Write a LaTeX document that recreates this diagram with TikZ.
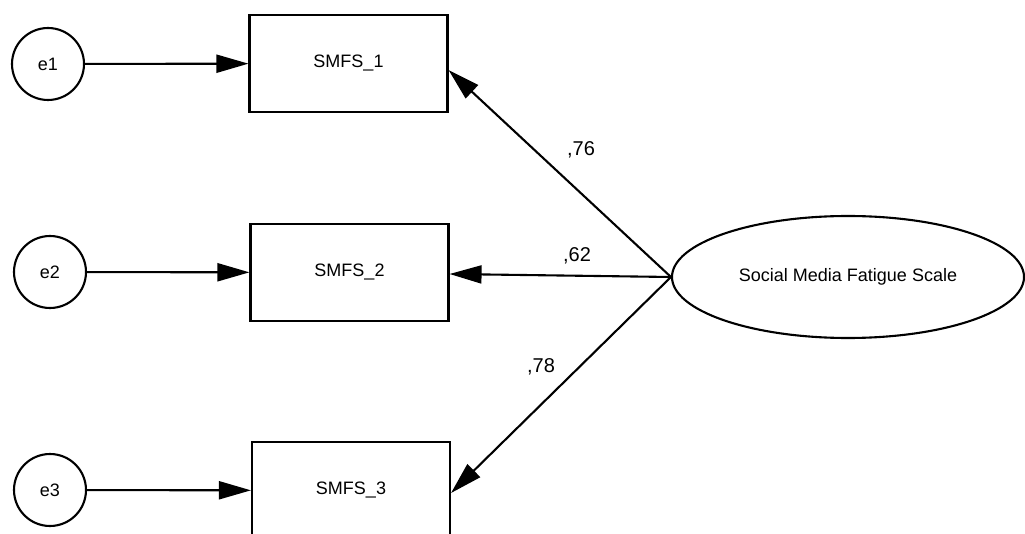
\documentclass[tikz,border=0pt]{standalone}
\usepackage{fontspec}
\setmainfont{Liberation Sans}
\usepackage{tikz}
\usetikzlibrary{shapes.geometric,arrows.meta,positioning}

\begin{document}
\begin{tikzpicture}
[x=1pt,y=-1pt,line width=2.1pt,>={Triangle[length=32pt,width=18pt]},
font=\fontsize{18}{21}\selectfont,
err/.style = {draw, circle, minimum size = 72pt, inner sep = 0pt},
obs/.style = {draw, rectangle, minimum width = 198pt, minimum height = 97pt, inner sep = 0pt},
lat/.style = {draw, ellipse, minimum width = 352pt, minimum height = 122pt, inner sep = 0pt},
est/.style = {font=\fontsize{20}{22}\selectfont},]
\useasboundingbox (0,0) rectangle (1025,534);
\node (e1) at (48,64) [err] {e1};
\node (e2) at (50,272) [err] {e2};
\node (e3) at (50,490) [err] {e3};
\node (S1) at (348.5,63.5) [obs] {SMFS\_1};
\node (S2) at (349.5,272.5) [obs] {SMFS\_2};
\node (S3) at (351,490.5) [obs] {SMFS\_3};
\node (F) at (848,277) [lat] {Social Media Fatigue Scale};
\draw[->] (e1)--(S1);
\draw[->] (e2)--(S2);
\draw[->] (e3)--(S3);
\draw[->] (F.west)--([yshift=-6.5pt]S1.east);
\draw[->] (F.west)--([yshift=-1.5pt]S2.east);
\draw[->] (F.west)--([yshift=-2.5pt]S3.east);
\node (l1) at (581,150) [est] {,76};
\node (l2) at (577,256) [est] {,62};
\node (l3) at (541,367) [est] {,78};
\end{tikzpicture}
\end{document}
